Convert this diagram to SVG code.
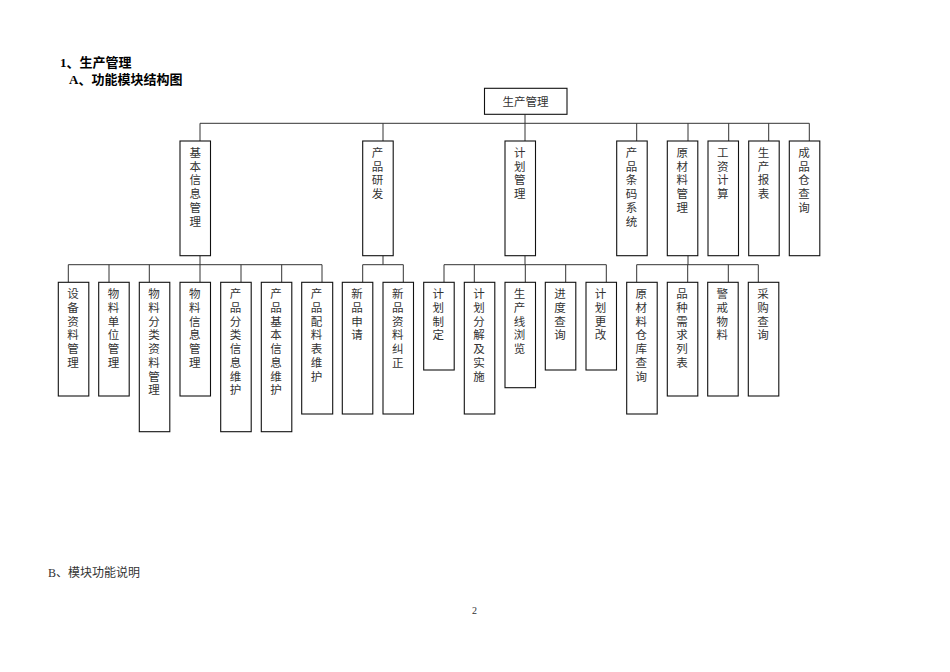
<svg xmlns="http://www.w3.org/2000/svg" width="950" height="672" viewBox="0 0 950 672">
<style>
.box{fill:#fff;stroke:#111;stroke-width:1.1}
.ln{fill:none;stroke:#333;stroke-width:1}
.t{font-family:"Liberation Serif","Noto Sans CJK SC",serif;font-size:11.5px;fill:#333;text-anchor:middle}
.h{font-family:"Liberation Serif","Noto Sans CJK SC",serif;font-size:13px;font-weight:bold;fill:#000}
.p{font-family:"Liberation Serif","Noto Sans CJK SC",serif;font-size:12px;fill:#333}
</style>
<rect width="950" height="672" fill="#fff"/>
<text class="h" x="60" y="67">1、生产管理</text>
<text class="h" x="69" y="84">A、功能模块结构图</text>
<text class="p" x="48" y="577">B、模块功能说明</text>
<text class="p" x="472" y="614" style="font-size:10px">2</text>

<g id="connectors" class="ln">
<path d="M525 114.3V123.3M200 123.3H809.3M200 123.3V141M383 123.3V141M525 123.3V141M636.7 123.3V141M688 123.3V141M728.7 123.3V141M768.7 123.3V141M809.3 123.3V141"/>
<path d="M200 255.7V264.7M68.3 264.7H322M68.3 264.7V282.3M109 264.7V282.3M149.3 264.7V282.3M200 264.7V282.3M241 264.7V282.3M281.7 264.7V282.3M322 264.7V282.3"/>
<path d="M383 255.7V264.7M362.7 264.7H403.3M362.7 264.7V282.3M403.3 264.7V282.3"/>
<path d="M525 255.7V264.7M444 264.7H606.3M444 264.7V282.3M474.3 264.7V282.3M525.3 264.7V282.3M565.7 264.7V282.3M606.3 264.7V282.3"/>
<path d="M688 255.7V264.7M636.7 264.7H758.3M636.7 264.7V282.3M687.7 264.7V282.3M728.3 264.7V282.3M758.3 264.7V282.3"/>
</g>

<g id="root"><rect class="box" x="484.5" y="88.3" width="82.5" height="26"/><text class="t" x="525.5" y="106">生产管理</text></g>

<g id="n_jiben"><rect class="box" x="180" y="141" width="30.5" height="114.7"/><text class="t"><tspan x="195.2" y="157">基</tspan><tspan x="195.2" y="170.7">本</tspan><tspan x="195.2" y="184.4">信</tspan><tspan x="195.2" y="198.1">息</tspan><tspan x="195.2" y="211.8">管</tspan><tspan x="195.2" y="225.5">理</tspan></text></g>
<g id="n_yanfa"><rect class="box" x="362.7" y="141" width="30.5" height="114.7"/><text class="t"><tspan x="377.5" y="157">产</tspan><tspan x="377.5" y="170.7">品</tspan><tspan x="377.5" y="184.4">研</tspan><tspan x="377.5" y="198.1">发</tspan></text></g>
<g id="n_jihua"><rect class="box" x="505" y="141" width="30.5" height="114.7"/><text class="t"><tspan x="519.8" y="157">计</tspan><tspan x="519.8" y="170.7">划</tspan><tspan x="519.8" y="184.4">管</tspan><tspan x="519.8" y="198.1">理</tspan></text></g>
<g id="n_tiaoma"><rect class="box" x="616.7" y="141" width="30.5" height="114.7"/><text class="t"><tspan x="631.5" y="157">产</tspan><tspan x="631.5" y="170.7">品</tspan><tspan x="631.5" y="184.4">条</tspan><tspan x="631.5" y="198.1">码</tspan><tspan x="631.5" y="211.8">系</tspan><tspan x="631.5" y="225.5">统</tspan></text></g>
<g id="n_yuancailiao"><rect class="box" x="667.3" y="141" width="30.5" height="114.7"/><text class="t"><tspan x="682.2" y="157">原</tspan><tspan x="682.2" y="170.7">材</tspan><tspan x="682.2" y="184.4">料</tspan><tspan x="682.2" y="198.1">管</tspan><tspan x="682.2" y="211.8">理</tspan></text></g>
<g id="n_gongzi"><rect class="box" x="708" y="141" width="30.5" height="114.7"/><text class="t"><tspan x="722.8" y="157">工</tspan><tspan x="722.8" y="170.7">资</tspan><tspan x="722.8" y="184.4">计</tspan><tspan x="722.8" y="198.1">算</tspan></text></g>
<g id="n_baobiao"><rect class="box" x="748.7" y="141" width="30.5" height="114.7"/><text class="t"><tspan x="763.5" y="157">生</tspan><tspan x="763.5" y="170.7">产</tspan><tspan x="763.5" y="184.4">报</tspan><tspan x="763.5" y="198.1">表</tspan></text></g>
<g id="n_chengpin"><rect class="box" x="789.3" y="141" width="30.5" height="114.7"/><text class="t"><tspan x="804" y="157">成</tspan><tspan x="804" y="170.7">品</tspan><tspan x="804" y="184.4">仓</tspan><tspan x="804" y="198.1">查</tspan><tspan x="804" y="211.8">询</tspan></text></g>

<g id="n_shebei"><rect class="box" x="58.3" y="282.3" width="30.5" height="113.7"/><text class="t"><tspan x="73" y="298.3">设</tspan><tspan x="73" y="312">备</tspan><tspan x="73" y="325.7">资</tspan><tspan x="73" y="339.4">料</tspan><tspan x="73" y="353.1">管</tspan><tspan x="73" y="366.8">理</tspan></text></g>
<g id="n_danwei"><rect class="box" x="98.7" y="282.3" width="30.5" height="113.7"/><text class="t"><tspan x="113.5" y="298.3">物</tspan><tspan x="113.5" y="312">料</tspan><tspan x="113.5" y="325.7">单</tspan><tspan x="113.5" y="339.4">位</tspan><tspan x="113.5" y="353.1">管</tspan><tspan x="113.5" y="366.8">理</tspan></text></g>
<g id="n_fenlei"><rect class="box" x="139.3" y="282.3" width="30.5" height="149.4"/><text class="t"><tspan x="154" y="298.3">物</tspan><tspan x="154" y="312">料</tspan><tspan x="154" y="325.7">分</tspan><tspan x="154" y="339.4">类</tspan><tspan x="154" y="353.1">资</tspan><tspan x="154" y="366.8">料</tspan><tspan x="154" y="380.5">管</tspan><tspan x="154" y="394.2">理</tspan></text></g>
<g id="n_wuliaoxinxi"><rect class="box" x="180" y="282.3" width="30.5" height="113.7"/><text class="t"><tspan x="194.8" y="298.3">物</tspan><tspan x="194.8" y="312">料</tspan><tspan x="194.8" y="325.7">信</tspan><tspan x="194.8" y="339.4">息</tspan><tspan x="194.8" y="353.1">管</tspan><tspan x="194.8" y="366.8">理</tspan></text></g>
<g id="n_cpfenlei"><rect class="box" x="220.7" y="282.3" width="30.5" height="149.4"/><text class="t"><tspan x="235.5" y="298.3">产</tspan><tspan x="235.5" y="312">品</tspan><tspan x="235.5" y="325.7">分</tspan><tspan x="235.5" y="339.4">类</tspan><tspan x="235.5" y="353.1">信</tspan><tspan x="235.5" y="366.8">息</tspan><tspan x="235.5" y="380.5">维</tspan><tspan x="235.5" y="394.2">护</tspan></text></g>
<g id="n_cpjiben"><rect class="box" x="261.3" y="282.3" width="30.5" height="149.4"/><text class="t"><tspan x="276" y="298.3">产</tspan><tspan x="276" y="312">品</tspan><tspan x="276" y="325.7">基</tspan><tspan x="276" y="339.4">本</tspan><tspan x="276" y="353.1">信</tspan><tspan x="276" y="366.8">息</tspan><tspan x="276" y="380.5">维</tspan><tspan x="276" y="394.2">护</tspan></text></g>
<g id="n_peiliao"><rect class="box" x="301.7" y="282.3" width="31" height="131.7"/><text class="t"><tspan x="316.5" y="298.3">产</tspan><tspan x="316.5" y="312">品</tspan><tspan x="316.5" y="325.7">配</tspan><tspan x="316.5" y="339.4">料</tspan><tspan x="316.5" y="353.1">表</tspan><tspan x="316.5" y="366.8">维</tspan><tspan x="316.5" y="380.5">护</tspan></text></g>
<g id="n_xinpin"><rect class="box" x="342.3" y="282.3" width="30.5" height="131.7"/><text class="t"><tspan x="357" y="298.3">新</tspan><tspan x="357" y="312">品</tspan><tspan x="357" y="325.7">申</tspan><tspan x="357" y="339.4">请</tspan></text></g>
<g id="n_jiuzheng"><rect class="box" x="383" y="282.3" width="30.5" height="131.7"/><text class="t"><tspan x="397.8" y="298.3">新</tspan><tspan x="397.8" y="312">品</tspan><tspan x="397.8" y="325.7">资</tspan><tspan x="397.8" y="339.4">料</tspan><tspan x="397.8" y="353.1">纠</tspan><tspan x="397.8" y="366.8">正</tspan></text></g>
<g id="n_zhiding"><rect class="box" x="423.7" y="282.3" width="30.5" height="87.7"/><text class="t"><tspan x="438.3" y="298.3">计</tspan><tspan x="438.3" y="312">划</tspan><tspan x="438.3" y="325.7">制</tspan><tspan x="438.3" y="339.4">定</tspan></text></g>
<g id="n_fenjie"><rect class="box" x="464.3" y="282.3" width="30.5" height="131.7"/><text class="t"><tspan x="479" y="298.3">计</tspan><tspan x="479" y="312">划</tspan><tspan x="479" y="325.7">分</tspan><tspan x="479" y="339.4">解</tspan><tspan x="479" y="353.1">及</tspan><tspan x="479" y="366.8">实</tspan><tspan x="479" y="380.5">施</tspan></text></g>
<g id="n_liulan"><rect class="box" x="505" y="282.3" width="30.5" height="105.4"/><text class="t"><tspan x="519.5" y="298.3">生</tspan><tspan x="519.5" y="312">产</tspan><tspan x="519.5" y="325.7">线</tspan><tspan x="519.5" y="339.4">浏</tspan><tspan x="519.5" y="353.1">览</tspan></text></g>
<g id="n_jindu"><rect class="box" x="545.3" y="282.3" width="30.5" height="87.7"/><text class="t"><tspan x="560" y="298.3">进</tspan><tspan x="560" y="312">度</tspan><tspan x="560" y="325.7">查</tspan><tspan x="560" y="339.4">询</tspan></text></g>
<g id="n_genggai"><rect class="box" x="586" y="282.3" width="30.5" height="87.7"/><text class="t"><tspan x="600.5" y="298.3">计</tspan><tspan x="600.5" y="312">划</tspan><tspan x="600.5" y="325.7">更</tspan><tspan x="600.5" y="339.4">改</tspan></text></g>
<g id="n_cangku"><rect class="box" x="626.7" y="282.3" width="30.5" height="131.7"/><text class="t"><tspan x="641.2" y="298.3">原</tspan><tspan x="641.2" y="312">材</tspan><tspan x="641.2" y="325.7">料</tspan><tspan x="641.2" y="339.4">仓</tspan><tspan x="641.2" y="353.1">库</tspan><tspan x="641.2" y="366.8">查</tspan><tspan x="641.2" y="380.5">询</tspan></text></g>
<g id="n_xuqiu"><rect class="box" x="667.3" y="282.3" width="30.5" height="113.7"/><text class="t"><tspan x="682" y="298.3">品</tspan><tspan x="682" y="312">种</tspan><tspan x="682" y="325.7">需</tspan><tspan x="682" y="339.4">求</tspan><tspan x="682" y="353.1">列</tspan><tspan x="682" y="366.8">表</tspan></text></g>
<g id="n_jingjie"><rect class="box" x="707.7" y="282.3" width="30.5" height="113.7"/><text class="t"><tspan x="722.3" y="298.3">警</tspan><tspan x="722.3" y="312">戒</tspan><tspan x="722.3" y="325.7">物</tspan><tspan x="722.3" y="339.4">料</tspan></text></g>
<g id="n_caigou"><rect class="box" x="748.3" y="282.3" width="30.5" height="113.7"/><text class="t"><tspan x="763" y="298.3">采</tspan><tspan x="763" y="312">购</tspan><tspan x="763" y="325.7">查</tspan><tspan x="763" y="339.4">询</tspan></text></g>
</svg>
